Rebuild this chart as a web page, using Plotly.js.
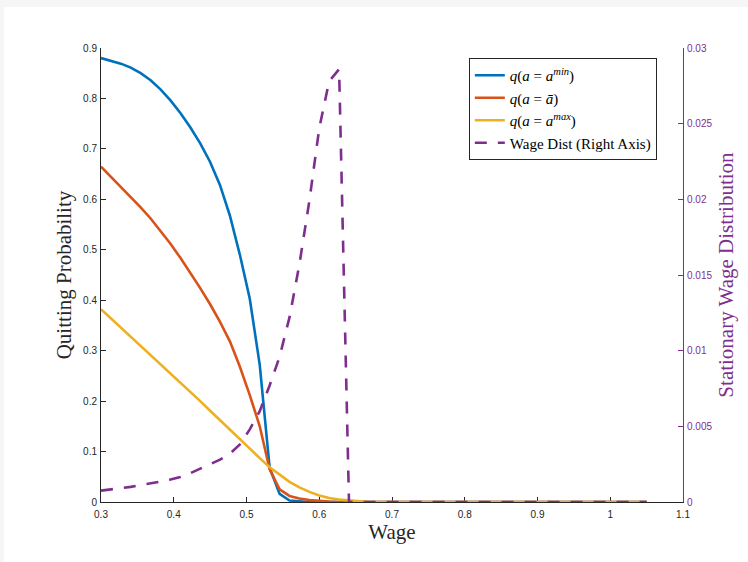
<!DOCTYPE html>
<html>
<head>
<meta charset="utf-8">
<script src="https://cdn.plot.ly/plotly-3.0.1.min.js"></script>
<style>
  html, body { margin: 0; padding: 0; background: #f6f6f6; width: 748px; height: 562px; overflow: hidden; }
  #chart { position: absolute; left: 4px; top: 7px; width: 744px; height: 555px; background: #ffffff; }
</style>
</head>
<body>
<div id="chart"></div>
<script>
// Wage grid (x values)
const wage = [0.3000,0.3136,0.3273,0.3409,0.3545,0.3682,0.3818,0.3955,0.4091,0.4227,
              0.4364,0.4500,0.4636,0.4773,0.4909,0.5045,0.5182,0.5318,0.5455,0.5591,
              0.5727,0.5864,0.6000,0.6136,0.6273,0.6409,0.6545,0.6682,1.0500];

// Quitting probability, a = a_min
const qMin = [0.880,0.875,0.869,0.861,0.850,0.836,0.818,0.796,0.771,0.743,
              0.711,0.674,0.628,0.567,0.490,0.403,0.272,0.068,0.016,0.003,
              0.001,0,0,0,0,0,0,0,0];

// Quitting probability, a = a_bar
const qBar = [0.665,0.645,0.625,0.605,0.584,0.562,0.538,0.512,0.484,0.455,
              0.424,0.392,0.357,0.318,0.268,0.212,0.150,0.065,0.025,0.012,
              0.007,0.004,0.002,0.001,0,0,0,0,0];

// Quitting probability, a = a_max
const qMax = [0.382,0.364,0.346,0.328,0.310,0.292,0.274,0.256,0.238,0.219,
              0.200,0.181,0.162,0.143,0.124,0.105,0.087,0.069,0.054,0.040,
              0.029,0.020,0.013,0.008,0.005,0.003,0.001,0,0];

// Stationary wage distribution (right axis)
const wageDist = [0.00075,0.00082,0.00090,0.00100,0.00112,0.00122,0.00134,0.00148,0.00165,0.00190,
                  0.00222,0.00250,0.00280,0.00320,0.00380,0.00480,0.00600,0.00770,0.00960,0.01220,
                  0.01570,0.01990,0.02470,0.02780,0.02860,0,0,0,0];

// Tick values / labels
const xTicks = [0.3,0.4,0.5,0.6,0.7,0.8,0.9,1,1.1];
const yTicks = [0,0.1,0.2,0.3,0.4,0.5,0.6,0.7,0.8,0.9];
const y2Ticks = [0,0.005,0.01,0.015,0.02,0.025,0.03];
const y2Labels = ["0","0.005","0.01","0.015","0.02","0.025","0.03"];

const names = [
  "<i>q</i>(<i>a</i> = <i>a</i><sup><i>min</i></sup>)",
  "<i>q</i>(<i>a</i> = <i>ā</i>)",
  "<i>q</i>(<i>a</i> = <i>a</i><sup><i>max</i></sup>)",
  "Wage Dist (Right Axis)"
];
const colors = ["#0072BD","#D95319","#EDB120","#7E2F8E"];

const traces = [
  {x: wage, y: qMin, name: names[0], type: "scatter", mode: "lines", cliponaxis: false,
   line: {color: colors[0], width: 2.6}},
  {x: wage, y: qBar, name: names[1], type: "scatter", mode: "lines", cliponaxis: false,
   line: {color: colors[1], width: 2.6}},
  {x: wage, y: qMax, name: names[2], type: "scatter", mode: "lines", cliponaxis: false,
   line: {color: colors[2], width: 2.6}},
  {x: wage, y: wageDist, name: names[3], type: "scatter", mode: "lines", yaxis: "y2", cliponaxis: false,
   line: {color: colors[3], width: 2.6, dash: "12px,11px"}}
];

const tickFont = {family: "Liberation Sans, Arial, sans-serif", size: 10, color: "#262626"};
const titleFont = {family: "Liberation Serif, Times New Roman, serif", size: 21, color: "#262626"};

const layout = {
  width: 744, height: 555,
  paper_bgcolor: "#ffffff", plot_bgcolor: "#ffffff",
  margin: {l: 97, r: 65, t: 41, b: 60},
  showlegend: true,
  legend: {
    x: 0.632, y: 0.978, xanchor: "left", yanchor: "top",
    bgcolor: "#ffffff", bordercolor: "#262626", borderwidth: 1,
    font: {family: "Liberation Serif, Times New Roman, serif", size: 15, color: "#000000"},
    itemwidth: 30, tracegroupgap: 0
  },
  xaxis: {
    range: [0.3, 1.1], tickvals: xTicks, ticks: "inside", ticklen: 5, tickcolor: "#262626",
    showline: true, linecolor: "#262626", linewidth: 1, showgrid: false, zeroline: false,
    tickfont: tickFont, layer: "below traces", ticklabelstandoff: 3,
    title: {text: "Wage", font: titleFont, standoff: 4}
  },
  yaxis: {
    range: [0, 0.9], tickvals: yTicks, ticks: "inside", ticklen: 5, tickcolor: "#262626",
    showline: true, linecolor: "#262626", linewidth: 1, showgrid: false, zeroline: false,
    tickfont: tickFont, layer: "below traces", ticklabelstandoff: 1,
    title: {text: "Quitting Probability", font: titleFont, standoff: 5}
  },
  yaxis2: {
    range: [0, 0.03], tickvals: y2Ticks, ticktext: y2Labels, overlaying: "y", side: "right",
    ticks: "inside", ticklen: 5, tickcolor: colors[3],
    showline: true, linecolor: colors[3], linewidth: 1, showgrid: false, zeroline: false,
    tickfont: {family: "Liberation Sans, Arial, sans-serif", size: 10, color: colors[3]},
    layer: "below traces", ticklabelstandoff: 1,
    title: {text: "Stationary Wage Distribution", font: {family: "Liberation Serif, Times New Roman, serif", size: 21, color: colors[3]}, standoff: 6}
  }
};

Plotly.newPlot("chart", traces, layout, {displayModeBar: false, staticPlot: true});
</script>
</body>
</html>
